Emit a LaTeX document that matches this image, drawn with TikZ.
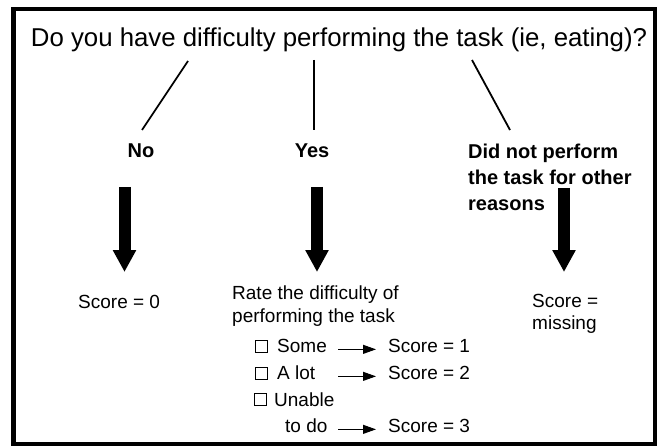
\documentclass[tikz,border=0pt]{standalone}
\usepackage{fontspec}
\setmainfont{Liberation Sans}
\usepackage{tikz}
\usetikzlibrary{positioning,arrows,arrows.meta}
\tikzset{
  frame/.style    = {line width=4.5pt},
  question/.style = {inner sep=0pt, font=\fontsize{25.8}{30}\selectfont},
  answer/.style   = {inner sep=0pt, align=left, font=\bfseries\fontsize{20}{26}\selectfont},
  plain/.style    = {inner sep=0pt, align=left, font=\fontsize{19}{22.5}\selectfont},
  option/.style   = {plain, font=\fontsize{19}{26}\selectfont},
  tickbox/.style  = {rectangle, draw, line width=0.8pt, inner sep=0pt, minimum size=12pt},
  branch/.style   = {line width=1.8pt},
  fat/.style      = {line width=12pt, -{Triangle[width=22pt,length=22pt]}},
  pointer/.style  = {line width=1pt, -{Triangle[width=9pt,length=13pt]}}
}

\begin{document}
\begin{tikzpicture}[x=1pt,y=-1pt]
  \useasboundingbox (0,0) rectangle (663,446);
  \draw[frame] (13.5,9) rectangle (655,444);

  \node[question, anchor=base] (q) at (339,47)
    {Do you have difficulty performing the task (ie, eating)?};

  % the three answers
  \node[answer, anchor=base] (no)  at (141,158) {No};
  \node[answer, anchor=base] (yes) at (312,158) {Yes};
  \node[answer, anchor=north west] (other) at (468,143.5)
    {Did not perform\\the task for other\\reasons};

  \coordinate (b1a) at (188,61);  \coordinate (b1b) at (142,130);
  \coordinate (b2a) at (314,60);  \coordinate (b2b) at (314,130);
  \coordinate (b3a) at (472,60);  \coordinate (b3b) at (510,130);
  \draw[branch] (b1a) -- (b1b);
  \draw[branch] (b2a) -- (b2b);
  \draw[branch] (b3a) -- (b3b);

  % big arrows
  \coordinate (f1a) at (124.5,187); \coordinate (f1b) at (124.5,272);
  \coordinate (f2a) at (317,187);   \coordinate (f2b) at (317,272);
  \coordinate (f3a) at (564,188);   \coordinate (f3b) at (564,272);
  \draw[fat] (f1a) -- (f1b);
  \draw[fat] (f2a) -- (f2b);
  \draw[fat] (f3a) -- (f3b);

  % outcomes
  \node[plain, anchor=base west] (score0) at (78,308) {Score = 0};
  \node[plain, anchor=north west] (missing) at (532,294) {Score =\\missing};
  \node[plain, anchor=north west] (rate) at (232,286)
    {Rate the difficulty of\\performing the task};

  \node[tickbox] (box1) at (261,346.5) {};
  \node[tickbox] (box2) at (261,373.5) {};
  \node[tickbox] (box3) at (260.5,399.5) {};
  \node[option, anchor=base west] (opt1)  at (277,352) {Some};
  \node[option, anchor=base west] (opt2)  at (277,379) {A lot};
  \node[option, anchor=base west] (opt3)  at (274,406) {Unable};
  \node[option, anchor=base west] (opt3b) at (285,432) {to do};

  \node[option, anchor=base west] (sc1) at (388,352) {Score = 1};
  \node[option, anchor=base west] (sc2) at (388,379) {Score = 2};
  \node[option, anchor=base west] (sc3) at (388,432) {Score = 3};
  \draw[pointer] ([xshift=-50pt]sc1.mid west) -- ([xshift=-12pt]sc1.mid west);
  \draw[pointer] ([xshift=-50pt]sc2.mid west) -- ([xshift=-12pt]sc2.mid west);
  \draw[pointer] ([xshift=-50pt]sc3.mid west) -- ([xshift=-12pt]sc3.mid west);
\end{tikzpicture}
\end{document}
